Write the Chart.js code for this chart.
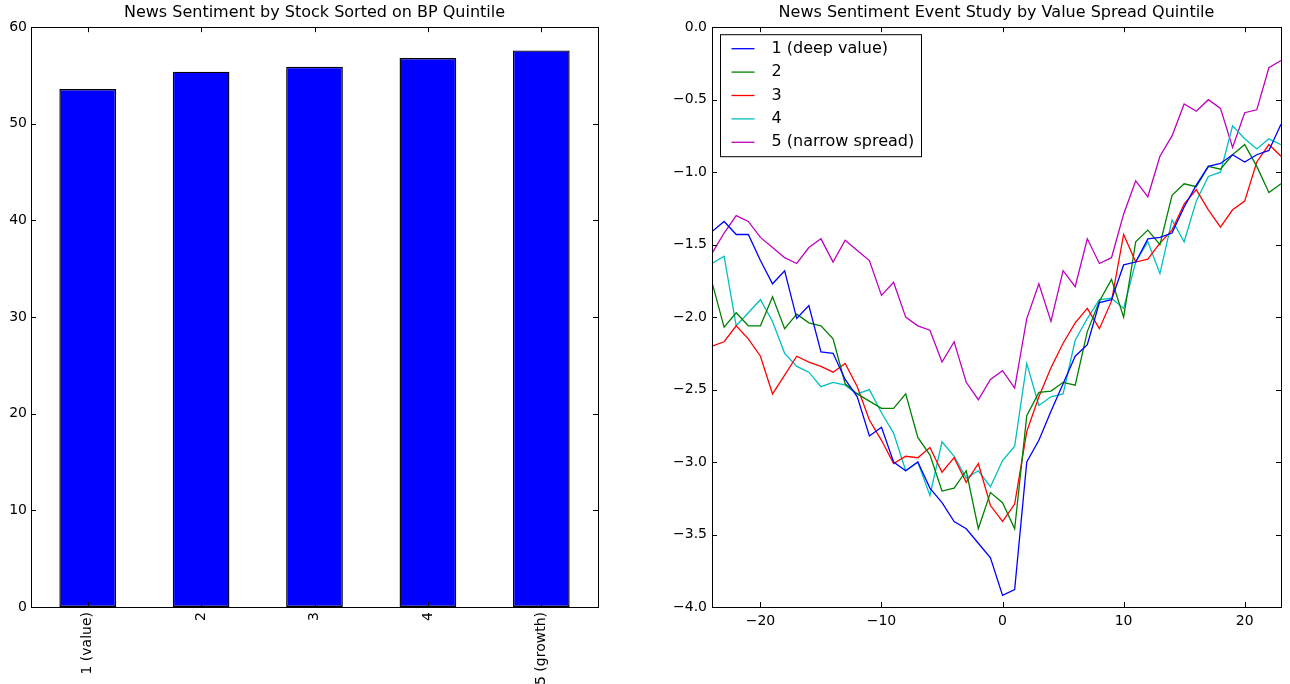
<!DOCTYPE html>
<html>
<head>
<meta charset="utf-8">
<script src="https://cdn.jsdelivr.net/npm/chart.js@4.4.1/dist/chart.umd.min.js"></script>
<style>
  html,body{margin:0;padding:0;background:#fff;}
  #wrap{position:relative;width:1290px;height:684px;overflow:hidden;}
  #barChart{position:absolute;left:0;top:0;}
  #lineChart{position:absolute;left:650px;top:0;}
</style>
</head>
<body>
<div id="wrap">
  <canvas id="barChart" width="650" height="684"></canvas>
  <canvas id="lineChart" width="640" height="684"></canvas>
</div>
<script>
// left panel: sentiment by BP quintile
const quintiles = ['1 (value)','2','3','4','5 (growth)'];
const sentiment = [53.6,55.4,55.9,56.8,57.6];
const barTicks = [0,10,20,30,40,50,60];

// right panel: event study, days relative to event
const eventDays = [-24,-23,-22,-21,-20,-19,-18,-17,-16,-15,-14,-13,-12,-11,-10,-9,-8,-7,-6,-5,-4,-3,-2,-1,
                   0,1,2,3,4,5,6,7,8,9,10,11,12,13,14,15,16,17,18,19,20,21,22,23];
const deepValue = [-1.41,-1.34,-1.43,-1.43,-1.61,-1.77,-1.68,-2.01,-1.92,-2.24,-2.25,-2.43,-2.55,-2.82,-2.76,-3.00,-3.06,-3.00,-3.18,-3.28,-3.41,-3.46,-3.56,-3.66,
                   -3.92,-3.88,-3.00,-2.85,-2.65,-2.46,-2.27,-2.19,-1.90,-1.88,-1.64,-1.62,-1.46,-1.45,-1.42,-1.24,-1.09,-0.96,-0.94,-0.88,-0.93,-0.88,-0.85,-0.67];
const quint2 = [-1.76,-2.07,-1.97,-2.06,-2.06,-1.86,-2.08,-1.98,-2.04,-2.06,-2.15,-2.46,-2.53,-2.58,-2.63,-2.63,-2.53,-2.83,-2.95,-3.20,-3.18,-3.06,-3.46,-3.21,
                -3.28,-3.46,-2.68,-2.52,-2.51,-2.45,-2.47,-2.10,-1.89,-1.74,-2.00,-1.48,-1.40,-1.50,-1.16,-1.08,-1.10,-0.96,-0.98,-0.88,-0.81,-0.96,-1.14,-1.08];
const quint3 = [-2.20,-2.17,-2.06,-2.15,-2.27,-2.53,-2.40,-2.27,-2.31,-2.34,-2.38,-2.32,-2.48,-2.71,-2.85,-3.01,-2.96,-2.97,-2.90,-3.07,-2.97,-3.14,-3.01,-3.30,
                -3.41,-3.29,-2.79,-2.55,-2.35,-2.18,-2.04,-1.94,-2.08,-1.89,-1.43,-1.62,-1.60,-1.49,-1.40,-1.22,-1.12,-1.26,-1.38,-1.26,-1.20,-0.93,-0.81,-0.89];
const quint4 = [-1.63,-1.58,-2.06,-1.97,-1.88,-2.03,-2.25,-2.34,-2.38,-2.48,-2.45,-2.47,-2.53,-2.50,-2.66,-2.80,-3.06,-3.00,-3.23,-2.86,-2.96,-3.11,-3.06,-3.17,
                -2.99,-2.89,-2.32,-2.61,-2.55,-2.53,-2.16,-2.01,-1.88,-1.87,-1.94,-1.62,-1.48,-1.70,-1.33,-1.48,-1.20,-1.03,-1.00,-0.68,-0.77,-0.84,-0.77,-0.81];
const narrowSpread = [-1.56,-1.42,-1.30,-1.34,-1.45,-1.52,-1.59,-1.63,-1.52,-1.46,-1.62,-1.47,-1.54,-1.61,-1.85,-1.76,-2.00,-2.06,-2.09,-2.31,-2.17,-2.45,-2.57,-2.43,
                      -2.37,-2.49,-2.01,-1.77,-2.03,-1.68,-1.79,-1.46,-1.63,-1.59,-1.29,-1.06,-1.17,-0.89,-0.75,-0.53,-0.58,-0.50,-0.56,-0.83,-0.59,-0.57,-0.28,-0.23];
const seriesNames = ['1 (deep value)','2','3','4','5 (narrow spread)'];
const xTicks = [-20,-10,0,10,20];
const yTicks = [0,-0.5,-1,-1.5,-2,-2.5,-3,-3.5,-4];

const FONT = 'DejaVu Sans';
Chart.defaults.font.family = FONT;
Chart.defaults.color = '#000';

const minus = s => String(s).replace('-', '\u2212');

// box round the plot with inward ticks on all four sides, like matplotlib classic
const frame = {
  id: 'frame',
  afterDatasetsDraw(chart){
    const {ctx, chartArea: a} = chart;
    const xs = chart.scales.x, ys = chart.scales.y, len = 5;
    ctx.save();
    ctx.strokeStyle = '#000';
    ctx.lineWidth = 1;
    ctx.beginPath();
    xs.ticks.forEach((t,i)=>{
      const p = Math.round(xs.getPixelForTick(i)) + 0.5;
      ctx.moveTo(p, a.bottom); ctx.lineTo(p, a.bottom - len);
      ctx.moveTo(p, a.top); ctx.lineTo(p, a.top + len);
    });
    ys.ticks.forEach((t,i)=>{
      const p = Math.round(ys.getPixelForTick(i)) + 0.5;
      ctx.moveTo(a.left, p); ctx.lineTo(a.left + len, p);
      ctx.moveTo(a.right, p); ctx.lineTo(a.right - len, p);
    });
    ctx.stroke();
    ctx.strokeRect(Math.round(a.left)+0.5, Math.round(a.top)+0.5, Math.round(a.right-a.left), Math.round(a.bottom-a.top));
    ctx.restore();
  }
};

// legend box in the upper left corner of the plot
const boxLegend = {
  id: 'boxLegend',
  afterDatasetsDraw(chart){
    const {ctx, chartArea: a} = chart;
    const left = a.left + 8.5, top = a.top + 7.5, w = 201, h = 122;
    ctx.save();
    ctx.fillStyle = '#fff';
    ctx.fillRect(left, top, w, h);
    ctx.strokeStyle = '#000';
    ctx.lineWidth = 1;
    ctx.strokeRect(left, top, w, h);
    ctx.font = '16px "' + FONT + '"';
    ctx.textBaseline = 'middle';
    chart.data.datasets.forEach((ds,i)=>{
      const y = top + 14 + i*23.4;
      ctx.strokeStyle = ds.borderColor;
      ctx.lineWidth = ds.borderWidth;
      ctx.beginPath(); ctx.moveTo(left+11, y); ctx.lineTo(left+34, y); ctx.stroke();
      ctx.fillStyle = '#000';
      ctx.fillText(ds.label, left+51, y);
    });
    ctx.restore();
  }
};

const titleOpts = text => ({
  display: true, text, fullSize: false, color: '#000',
  font: {size: 16, weight: 'normal', family: FONT},
  padding: {top: 3, bottom: 5}
});

new Chart(document.getElementById('barChart'), {
  type: 'bar',
  data: {
    labels: quintiles,
    datasets: [{data: sentiment, backgroundColor: '#0000ff', borderColor: '#000', borderWidth: 1.4, borderSkipped: false,
                barPercentage: 0.5, categoryPercentage: 1}]
  },
  options: {
    responsive: false, animation: false,
    layout: {padding: {right: 52}},
    plugins: {legend: {display: false}, tooltip: {enabled: false}, title: titleOpts('News Sentiment by Stock Sorted on BP Quintile')},
    scales: {
      x: {
        grid: {display: false, drawTicks: false}, border: {display: false},
        ticks: {minRotation: 90, maxRotation: 90, padding: 5, font: {size: 14}},
        afterFit: s => { s.height = 77; }
      },
      y: {
        min: 0, max: 60,
        grid: {display: false, drawTicks: false}, border: {display: false},
        ticks: {padding: 4, font: {size: 14}},
        afterBuildTicks: s => { s.ticks = barTicks.map(v=>({value: v})); },
        afterFit: s => { s.width = 31; }
      }
    }
  },
  plugins: [frame]
});

const colors = ['#0000ff','#008000','#ff0000','#00bfbf','#bf00bf'];
const seriesData = [deepValue, quint2, quint3, quint4, narrowSpread];

new Chart(document.getElementById('lineChart'), {
  type: 'line',
  data: {
    datasets: seriesData.map((vals,i)=>({
      label: seriesNames[i],
      data: eventDays.map((d,j)=>({x: d, y: vals[j]})),
      borderColor: colors[i], borderWidth: 1.3, pointRadius: 0, fill: false, tension: 0
    }))
  },
  options: {
    responsive: false, animation: false,
    layout: {padding: {right: 9}},
    plugins: {legend: {display: false}, tooltip: {enabled: false}, title: titleOpts('News Sentiment Event Study by Value Spread Quintile')},
    scales: {
      x: {
        type: 'linear', min: -24, max: 23,
        grid: {display: false, drawTicks: false}, border: {display: false},
        ticks: {padding: 6, font: {size: 14}, callback: v => minus(v)},
        afterBuildTicks: s => { s.ticks = xTicks.map(v=>({value: v})); },
        afterFit: s => { s.height = 77; }
      },
      y: {
        min: -4, max: 0,
        grid: {display: false, drawTicks: false}, border: {display: false},
        ticks: {padding: 5, font: {size: 14}, callback: v => minus(Number(v).toFixed(1))},
        afterBuildTicks: s => { s.ticks = yTicks.map(v=>({value: v})); },
        afterFit: s => { s.width = 62; }
      }
    }
  },
  plugins: [frame, boxLegend]
});
</script>
</body>
</html>
